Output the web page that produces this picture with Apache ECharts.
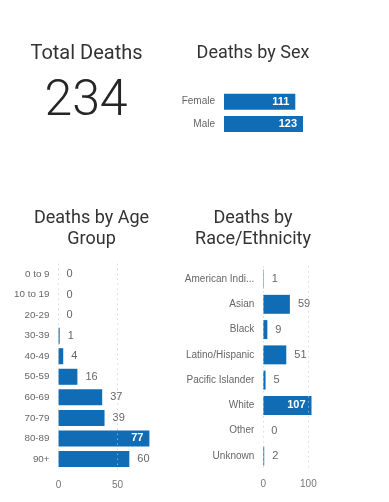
<!DOCTYPE html>
<html><head><meta charset="utf-8">
<script src="https://cdn.jsdelivr.net/npm/echarts@6/dist/echarts.min.js"></script>
<style>html,body{margin:0;padding:0;background:#fff}#c{width:389px;height:502px}</style>
</head><body><div id="c"></div>
<script>
const totalDeaths = 234;
const sexCategories = ['Female', 'Male'];
const sexValues = [111, 123];
const ageCategories = ['0 to 9', '10 to 19', '20-29', '30-39', '40-49', '50-59', '60-69', '70-79', '80-89', '90+'];
const ageValues = [0, 0, 0, 1, 4, 16, 37, 39, 77, 60];
const ageTicks = [0, 50];
const raceCategories = ['American Indian or Alaska Native', 'Asian', 'Black', 'Latino/Hispanic', 'Pacific Islander', 'White', 'Other', 'Unknown'];
const raceValues = [1, 59, 9, 51, 5, 107, 0, 2];
const raceTicks = [0, 100];

const BLUE = '#106cb4';
const FONT = 'Roboto, "Liberation Sans", sans-serif';
const LFONT = '"Liberation Sans", Arial, sans-serif';

function barData(values, insideIfMax) {
  const mx = Math.max(...values);
  return values.map(v => {
    if (insideIfMax && v === mx) {
      return { value: v, label: { position: 'insideRight', color: '#fff', fontWeight: 'bold', distance: 6 } };
    }
    return v;
  });
}
function gridMarks(ticks) {
  return {
    silent: true, symbol: 'none', label: { show: false },
    lineStyle: { type: [1, 4], color: '#c8c8c8', width: 1 },
    data: ticks.map(t => ({ xAxis: t }))
  };
}
const T = { padding: 0, textAlign: 'center' };

const chart = echarts.init(document.getElementById('c'), null, { renderer: 'canvas' });
chart.setOption({
  animation: false,
  title: [
    Object.assign({ text: 'Total Deaths', left: 86.5, top: 44, textStyle: { fontFamily: FONT, fontSize: 20, fontWeight: 'normal', color: '#333' } }, T),
    Object.assign({ text: String(totalDeaths), left: 86, top: 77, textStyle: { fontFamily: FONT, fontSize: 50, fontWeight: 300, color: '#252525' } }, T),
    Object.assign({ text: 'Deaths by Sex', left: 253, top: 44, textStyle: { fontFamily: FONT, fontSize: 18, fontWeight: 'normal', color: '#333' } }, T),
    Object.assign({ text: 'Deaths by Age\nGroup', left: 91.5, top: 208, textStyle: { fontFamily: FONT, fontSize: 18, lineHeight: 21, fontWeight: 'normal', color: '#333' } }, T),
    Object.assign({ text: 'Deaths by\nRace/Ethnicity', left: 253, top: 208, textStyle: { fontFamily: FONT, fontSize: 18, lineHeight: 21, fontWeight: 'normal', color: '#333' } }, T)
  ],
  grid: [
    { left: 224, top: 90.5, width: 79, height: 44.7 },
    { left: 58.5, top: 263.7, width: 90.9, height: 205.6 },
    { left: 263.3, top: 266.4, width: 48.2, height: 202.2 }
  ],
  xAxis: [
    { gridIndex: 0, type: 'value', min: 0, max: Math.max(...sexValues), show: false },
    { gridIndex: 1, type: 'value', min: 0, max: Math.max(...ageValues), interval: 50,
      axisLine: { show: false }, axisTick: { show: false }, splitLine: { show: false },
      axisLabel: { showMaxLabel: false, color: '#777', fontSize: 10, fontFamily: LFONT, margin: 11 } },
    { gridIndex: 2, type: 'value', min: 0, max: Math.max(...raceValues), interval: 100,
      axisLine: { show: false }, axisTick: { show: false }, splitLine: { show: false },
      axisLabel: { showMaxLabel: false, color: '#777', fontSize: 10, fontFamily: LFONT, margin: 11 } }
  ],
  yAxis: [
    { gridIndex: 0, type: 'category', data: sexCategories, inverse: true,
      axisLine: { show: false }, axisTick: { show: false },
      axisLabel: { color: '#666', fontSize: 10, fontFamily: LFONT, margin: 9 } },
    { gridIndex: 1, type: 'category', data: ageCategories, inverse: true,
      axisLine: { show: false }, axisTick: { show: false },
      axisLabel: { color: '#666', fontSize: 9.8, fontFamily: LFONT, margin: 9 } },
    { gridIndex: 2, type: 'category', data: raceCategories, inverse: true,
      axisLine: { show: false }, axisTick: { show: false },
      axisLabel: { color: '#666', fontSize: 10, fontFamily: LFONT, margin: 9, width: 74, overflow: 'truncate', ellipsis: '...' } }
  ],
  series: [
    { type: 'bar', xAxisIndex: 0, yAxisIndex: 0, data: sexValues, barCategoryGap: '28%',
      itemStyle: { color: BLUE },
      label: { show: true, position: 'insideRight', color: '#fff', fontSize: 11, fontWeight: 'bold', fontFamily: LFONT, distance: 6 } },
    { type: 'bar', xAxisIndex: 1, yAxisIndex: 1, data: barData(ageValues, true), barCategoryGap: '22%',
      itemStyle: { color: BLUE },
      label: { show: true, position: 'right', color: '#666', fontSize: 11, fontFamily: LFONT, distance: 8 },
      markLine: gridMarks(ageTicks), z: 2 },
    { type: 'bar', xAxisIndex: 2, yAxisIndex: 2, data: barData(raceValues, true), barCategoryGap: '25%',
      itemStyle: { color: BLUE },
      label: { show: true, position: 'right', color: '#666', fontSize: 11, fontFamily: LFONT, distance: 8 },
      markLine: gridMarks(raceTicks), z: 2 }
  ]
});
</script></body></html>
